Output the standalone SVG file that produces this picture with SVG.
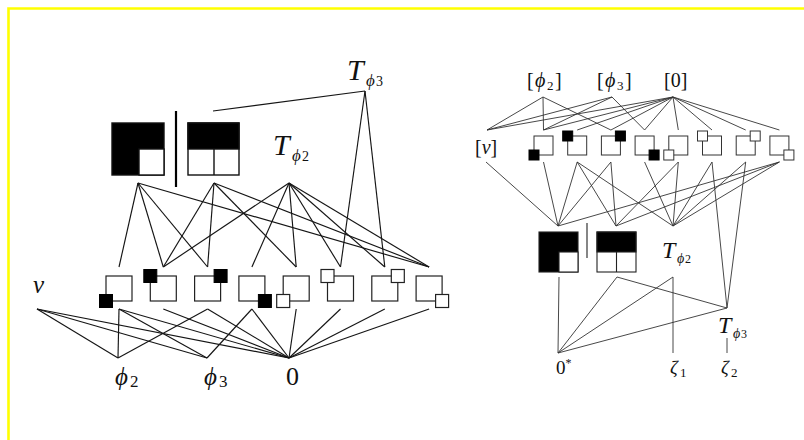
<svg xmlns="http://www.w3.org/2000/svg" width="804" height="440" viewBox="0 0 804 440">
<style>
.f{font-family:"Liberation Serif","DejaVu Serif",serif;fill:#111}
.i{font-style:italic}
.L line{stroke:#151515;stroke-width:1.15}
.R line{stroke:#333;stroke-width:0.9}
.sq{fill:#fff;stroke:#222;stroke-width:1.2}
.sqb{fill:#000;stroke:#000;stroke-width:1}
.sqr{fill:#fff;stroke:#333;stroke-width:1}
.bx{stroke:#111;stroke-width:1.4}
</style>
<rect x="0" y="0" width="804" height="440" fill="#fff"/>
<path d="M8.5 440 V8.5 H804" fill="none" stroke="#ffff00" stroke-width="2.6"/>

<g id="connectors">
<g class="L">
<line x1="138" y1="183" x2="119" y2="267"/><line x1="138" y1="183" x2="163.3" y2="267"/><line x1="138" y1="183" x2="207.6" y2="267"/><line x1="138" y1="183" x2="429.1" y2="267"/>
<line x1="214" y1="183" x2="163.3" y2="267"/><line x1="214" y1="183" x2="207.6" y2="267"/><line x1="214" y1="183" x2="296.2" y2="267"/><line x1="214" y1="183" x2="429.1" y2="267"/>
<line x1="289" y1="183" x2="163.3" y2="267"/><line x1="289" y1="183" x2="251.9" y2="267"/><line x1="289" y1="183" x2="296.2" y2="267"/><line x1="289" y1="183" x2="340.5" y2="267"/><line x1="289" y1="183" x2="384.8" y2="267"/><line x1="289" y1="183" x2="429.1" y2="267"/>
<line x1="365" y1="91" x2="213" y2="111"/><line x1="365" y1="91" x2="340.5" y2="267"/><line x1="365" y1="91" x2="384.8" y2="267"/>
<line x1="37" y1="309" x2="118" y2="358"/><line x1="37" y1="309" x2="207" y2="358"/><line x1="37" y1="309" x2="289" y2="358"/>
<line x1="119" y1="309" x2="118" y2="358"/><line x1="119" y1="309" x2="207" y2="358"/><line x1="119" y1="309" x2="289" y2="358"/>
<line x1="163.3" y1="309" x2="289" y2="358"/>
<line x1="207.6" y1="309" x2="118" y2="358"/><line x1="207.6" y1="309" x2="289" y2="358"/>
<line x1="251.9" y1="309" x2="207" y2="358"/><line x1="251.9" y1="309" x2="289" y2="358"/>
<line x1="296.2" y1="309" x2="289" y2="358"/><line x1="340.5" y1="309" x2="289" y2="358"/><line x1="384.8" y1="309" x2="289" y2="358"/><line x1="429.1" y1="309" x2="289" y2="358"/>
</g>
<g class="R">
<line x1="543" y1="97" x2="487" y2="130"/><line x1="543" y1="97" x2="543.5" y2="130"/><line x1="543" y1="97" x2="610.9" y2="130"/>
<line x1="612" y1="97" x2="487" y2="130"/><line x1="612" y1="97" x2="543.5" y2="130"/><line x1="612" y1="97" x2="644.6" y2="130"/>
<line x1="673" y1="97" x2="487" y2="130"/><line x1="673" y1="97" x2="543.5" y2="130"/><line x1="673" y1="97" x2="577.2" y2="130"/><line x1="673" y1="97" x2="610.9" y2="130"/><line x1="673" y1="97" x2="644.6" y2="130"/><line x1="673" y1="97" x2="678.3" y2="130"/><line x1="673" y1="97" x2="712" y2="130"/><line x1="673" y1="97" x2="745.7" y2="130"/><line x1="673" y1="97" x2="779.4" y2="130"/>
<line x1="558" y1="226" x2="486" y2="162"/><line x1="558" y1="226" x2="543.5" y2="162"/><line x1="558" y1="226" x2="577.2" y2="162"/><line x1="558" y1="226" x2="610.9" y2="162"/><line x1="558" y1="226" x2="779.4" y2="162"/>
<line x1="616" y1="226" x2="577.2" y2="162"/><line x1="616" y1="226" x2="610.9" y2="162"/><line x1="616" y1="226" x2="678.3" y2="162"/><line x1="616" y1="226" x2="779.4" y2="162"/>
<line x1="673" y1="226" x2="577.2" y2="162"/><line x1="673" y1="226" x2="644.6" y2="162"/><line x1="673" y1="226" x2="678.3" y2="162"/><line x1="673" y1="226" x2="712" y2="162"/><line x1="673" y1="226" x2="745.7" y2="162"/><line x1="673" y1="226" x2="779.4" y2="162"/>
<line x1="727" y1="308" x2="712" y2="162"/><line x1="727" y1="308" x2="745.7" y2="162"/><line x1="727" y1="308" x2="617" y2="277"/><line x1="727" y1="308" x2="558" y2="353"/>
<line x1="727" y1="338" x2="727" y2="353"/>
<line x1="558" y1="353" x2="559" y2="277"/><line x1="558" y1="353" x2="617" y2="277"/><line x1="558" y1="353" x2="673" y2="277"/>
<line x1="673" y1="277" x2="673" y2="353"/>
</g>
</g>

<!-- left diagram nodes -->
<g id="L-box1"><rect x="112" y="123" width="52" height="52" fill="#000" class="bx"/><rect x="139" y="149" width="25" height="26" fill="#fff" class="bx"/></g>
<g id="L-bar"><line x1="176" y1="111" x2="176" y2="187" stroke="#000" stroke-width="2.2"/></g>
<g id="L-box2"><rect x="188" y="123" width="51" height="52" fill="#fff" class="bx"/><rect x="188" y="123" width="51" height="26" fill="#000" class="bx"/><line x1="214" y1="149" x2="214" y2="175" class="bx"/></g>
<g id="L-Tphi2" class="f"><text x="273" y="155" font-size="30" class="i">T</text><text x="292" y="161" font-size="17" class="i">ϕ</text><text x="302" y="161" font-size="14">2</text></g>
<g id="L-Tphi3" class="f"><text x="347" y="80" font-size="30" class="i">T</text><text x="366" y="86" font-size="17" class="i">ϕ</text><text x="376" y="86" font-size="14">3</text></g>
<g id="L-n1"><rect x="106" y="276" width="26" height="25" class="sq"/><rect x="99.5" y="294.5" width="13" height="13" class="sqb"/></g>
<g id="L-n2"><rect x="150.3" y="276" width="26" height="25" class="sq"/><rect x="143.8" y="269.5" width="13" height="13" class="sqb"/></g>
<g id="L-n3"><rect x="194.6" y="276" width="26" height="25" class="sq"/><rect x="214.1" y="269.5" width="13" height="13" class="sqb"/></g>
<g id="L-n4"><rect x="238.9" y="276" width="26" height="25" class="sq"/><rect x="258.4" y="294.5" width="13" height="13" class="sqb"/></g>
<g id="L-n5"><rect x="283.2" y="276" width="26" height="25" class="sq"/><rect x="276.7" y="294.5" width="13" height="13" class="sq"/></g>
<g id="L-n6"><rect x="327.5" y="276" width="26" height="25" class="sq"/><rect x="321" y="269.5" width="13" height="13" class="sq"/></g>
<g id="L-n7"><rect x="371.8" y="276" width="26" height="25" class="sq"/><rect x="391.3" y="269.5" width="13" height="13" class="sq"/></g>
<g id="L-n8"><rect x="416.1" y="276" width="26" height="25" class="sq"/><rect x="435.6" y="294.5" width="13" height="13" class="sq"/></g>
<g id="L-v" class="f"><text x="33" y="293" font-size="25" class="i">v</text></g>
<g id="L-phi2" class="f"><text x="115" y="385" font-size="25" class="i">ϕ</text><text x="130" y="387" font-size="17">2</text></g>
<g id="L-phi3" class="f"><text x="204" y="385" font-size="25" class="i">ϕ</text><text x="219" y="387" font-size="17">3</text></g>
<g id="L-zero" class="f"><text x="286" y="385" font-size="26">0</text></g>

<!-- right diagram nodes -->
<g id="R-phi2" class="f"><text x="527" y="87" font-size="20">[</text><text x="535" y="87" font-size="20" class="i">ϕ</text><text x="547" y="90" font-size="13">2</text><text x="555" y="87" font-size="20">]</text></g>
<g id="R-phi3" class="f"><text x="597" y="87" font-size="20">[</text><text x="605" y="87" font-size="20" class="i">ϕ</text><text x="617" y="90" font-size="13">3</text><text x="625" y="87" font-size="20">]</text></g>
<g id="R-zero" class="f"><text x="664" y="87" font-size="20">[0]</text></g>
<g id="R-v" class="f"><text x="475" y="154" font-size="20">[<tspan class="i">v</tspan>]</text></g>
<g id="R-n1"><rect x="534" y="136" width="19" height="19" class="sqr"/><rect x="529" y="150" width="10" height="10" class="sqb"/></g>
<g id="R-n2"><rect x="567.7" y="136" width="19" height="19" class="sqr"/><rect x="562.7" y="131" width="10" height="10" class="sqb"/></g>
<g id="R-n3"><rect x="601.4" y="136" width="19" height="19" class="sqr"/><rect x="615.4" y="131" width="10" height="10" class="sqb"/></g>
<g id="R-n4"><rect x="635.1" y="136" width="19" height="19" class="sqr"/><rect x="649.1" y="150" width="10" height="10" class="sqb"/></g>
<g id="R-n5"><rect x="668.8" y="136" width="19" height="19" class="sqr"/><rect x="663.8" y="150" width="10" height="10" class="sqr"/></g>
<g id="R-n6"><rect x="702.5" y="136" width="19" height="19" class="sqr"/><rect x="697.5" y="131" width="10" height="10" class="sqr"/></g>
<g id="R-n7"><rect x="736.2" y="136" width="19" height="19" class="sqr"/><rect x="750.2" y="131" width="10" height="10" class="sqr"/></g>
<g id="R-n8"><rect x="769.9" y="136" width="19" height="19" class="sqr"/><rect x="783.9" y="150" width="10" height="10" class="sqr"/></g>
<g id="R-box1"><rect x="539" y="232" width="39" height="40" fill="#000" stroke="#222" stroke-width="1.1"/><rect x="559" y="252" width="19" height="20" fill="#fff" stroke="#222" stroke-width="1.1"/></g>
<g id="R-bar"><line x1="587" y1="223" x2="587" y2="258" stroke="#444" stroke-width="1.3"/></g>
<g id="R-box2"><rect x="597" y="232" width="39" height="40" fill="#fff" stroke="#222" stroke-width="1.1"/><rect x="597" y="232" width="39" height="20" fill="#000" stroke="#222" stroke-width="1.1"/><line x1="616.5" y1="252" x2="616.5" y2="272" stroke="#222" stroke-width="1.1"/></g>
<g id="R-Tphi2" class="f"><text x="662" y="258" font-size="24" class="i">T</text><text x="677" y="263" font-size="14" class="i">ϕ</text><text x="685" y="263" font-size="12">2</text></g>
<g id="R-Tphi3" class="f"><text x="718" y="333" font-size="24" class="i">T</text><text x="733" y="338" font-size="14" class="i">ϕ</text><text x="741" y="338" font-size="12">3</text></g>
<g id="R-zerostar" class="f"><text x="556" y="374" font-size="19">0<tspan font-size="12" dy="-7">*</tspan></text></g>
<g id="R-zeta1" class="f"><text x="670" y="374" font-size="19" class="i">ζ</text><text x="680" y="377" font-size="13">1</text></g>
<g id="R-zeta2" class="f"><text x="721" y="374" font-size="19" class="i">ζ</text><text x="731" y="377" font-size="13">2</text></g>
</svg>
